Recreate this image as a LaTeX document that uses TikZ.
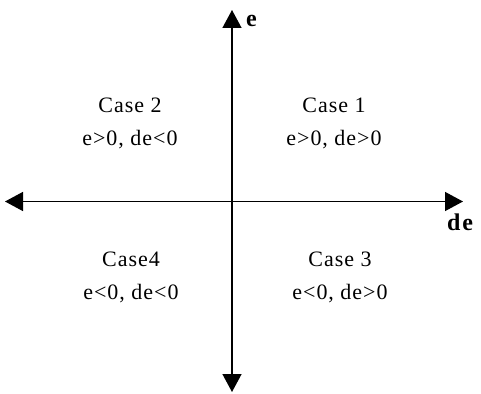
\documentclass[tikz,border=0pt]{standalone}
\usepackage{fontspec}
\setmainfont{Liberation Serif}
\newfontfamily\casefont[LetterSpace=4.5]{Liberation Serif}
\newfontfamily\axfont[LetterSpace=8]{Liberation Serif}
\usetikzlibrary{arrows.meta}
\begin{document}
\begin{tikzpicture}[x=1pt,y=-1pt,
  axis/.style={line width=1.4pt,-{Triangle[length=18pt,width=19pt]}},
  casetext/.style={align=center,inner sep=0pt,font=\casefont\fontsize{22}{33}\selectfont},
  axlabel/.style={inner sep=0pt,anchor=base west,font=\axfont\bfseries\fontsize{24}{26}\selectfont}]
\useasboundingbox (0,0) rectangle (481,393);
\coordinate (O) at (232,201.5);
\coordinate (top) at (232,10);
\coordinate (bot) at (232,392);
\coordinate (lft) at (5,201.5);
\coordinate (rgt) at (463,201.5);
\draw[axis] (O) -- (top);
\draw[axis] (O) -- (bot);
\draw[axis] (O) -- (lft);
\draw[axis] (O) -- (rgt);
\node[axlabel] (le) at (246,27) {e};
\node[axlabel] (lde) at (447,230) {de};
\node[casetext] (c2) at (130,123) {Case 2\\e>0,\ de<0};
\node[casetext] (c1) at (334,123) {Case 1\\e>0,\ de>0};
\node[casetext] (c4) at (131,277) {Case4\\e<0,\ de<0};
\node[casetext] (c3) at (340,277) {Case 3\\e<0,\ de>0};
\end{tikzpicture}
\end{document}
